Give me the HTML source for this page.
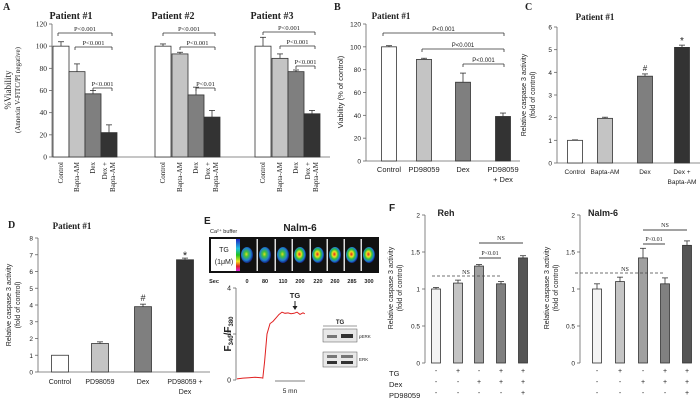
<!DOCTYPE html>
<html><head><meta charset="utf-8">
<style>
html,body{margin:0;padding:0;background:#fff;}
svg{display:block;}
</style></head>
<body>
<svg id="fig" width="700" height="406" viewBox="0 0 700 406" xmlns="http://www.w3.org/2000/svg">
<defs>
<radialGradient id="cellg" cx="45%" cy="45%" r="55%">
<stop offset="0" stop-color="#e02020"/><stop offset="0.3" stop-color="#f0e020"/><stop offset="0.55" stop-color="#30c040"/><stop offset="0.8" stop-color="#2080d0"/><stop offset="1" stop-color="#102080"/>
</radialGradient>
<radialGradient id="cellb" cx="45%" cy="45%" r="55%">
<stop offset="0" stop-color="#e0e020"/><stop offset="0.3" stop-color="#40c040"/><stop offset="0.7" stop-color="#2080d0"/><stop offset="1" stop-color="#102080"/>
</radialGradient>
<linearGradient id="cbar" x1="0" y1="0" x2="0" y2="1">
<stop offset="0" stop-color="#2020c0"/><stop offset="0.3" stop-color="#20c0e0"/><stop offset="0.5" stop-color="#20c020"/><stop offset="0.7" stop-color="#f0e020"/><stop offset="0.85" stop-color="#e02020"/><stop offset="1" stop-color="#e020e0"/>
</linearGradient>
</defs>
</svg>
<script>
// ---- Data ----
const aCats = ["Control","Bapta-AM","Dex","Dex +|Bapta-AM"];
const aP1 = [100,77,57,22];
const aP1err = [4,7,3,7];
const aP2 = [100,93,56,36];
const aP2err = [2,1.5,7,6];
const aP3 = [100,89,77,39];
const aP3err = [8,4,1.5,3];
const aTicks = [0,20,40,60,80,100,120];

const bCats = ["Control","PD98059","Dex","PD98059|+ Dex"];
const bVals = [100,89,69,39];
const bErr = [1,1,8,3];
const bTicks = [0,20,40,60,80,100,120];

const cCats = ["Control","Bapta-AM","Dex","Dex +|Bapta-AM"];
const cVals = [1,1.97,3.83,5.1];
const cErr = [0.02,0.05,0.1,0.1];
const cTicks = [0,1,2,3,4,5,6];

const dCats = ["Control","PD98059","Dex","PD98059 +|Dex"];
const dVals = [1,1.7,3.9,6.7];
const dErr = [0,0.1,0.15,0.1];
const dTicks = [0,1,2,3,4,5,6,7,8];

const eTime = [0,1,2,3,4,4.3,4.6,5,5.5,6,6.5,7,7.5,8,8.5,9,9.5,10,10.5,11,11.3];
const eRatio = [0.05,0.08,0.1,0.12,0.1,0.08,0.8,2.0,2.45,2.55,2.7,2.85,2.95,2.9,2.92,2.88,2.9,2.95,2.85,2.92,2.88];
const eSec = ["0","80","110","200","220","260","285","300"];
const eTicks = [0,2,4];

const fReh = [1,1.08,1.31,1.07,1.42];
const fRehErr = [0.02,0.04,0.02,0.03,0.03];
const fNalm = [1,1.1,1.42,1.07,1.59];
const fNalmErr = [0.07,0.06,0.13,0.08,0.06];
const fTicks = [0,0.5,1,1.5,2];
const fTG = ["-","+","-","+","+"];
const fDex = ["-","-","+","+","+"];
const fPD = ["-","-","-","-","+"];

// ---- helpers ----
const svg = document.getElementById('fig');
const NS = 'http://www.w3.org/2000/svg';
function el(tag, attrs, parent){
  const e = document.createElementNS(NS, tag);
  for (const k in attrs) e.setAttribute(k, attrs[k]);
  (parent||svg).appendChild(e);
  return e;
}
function txt(x,y,s,size,opts){
  opts = opts||{};
  const t = el('text',{x:x,y:y,'font-size':size,'font-family':opts.serif?'"Liberation Serif",serif':'"Liberation Sans",sans-serif','text-anchor':opts.anchor||'middle','font-weight':opts.bold?'bold':'normal','font-style':opts.italic?'italic':'normal',fill:opts.fill||'#222'});
  if (opts.rot!==undefined) t.setAttribute('transform','rotate('+opts.rot+' '+x+' '+y+')');
  t.textContent = s;
  return t;
}
function line(x1,y1,x2,y2,stroke,w,dash){
  const l = el('line',{x1:x1,y1:y1,x2:x2,y2:y2,stroke:stroke||'#333','stroke-width':w||0.8});
  if (dash) l.setAttribute('stroke-dasharray',dash);
  return l;
}
function yScale(y0,y1,vmax){ return v => y0 - (y0-y1)*v/vmax; }

function axis(x, y0, y1, ticks, sy, fmt, size, serif){
  const a = line(x,y0,x,y1,'#666',0.8);
  
  
  ticks.forEach(t=>{
    const yy = sy(t);
    line(x-3,yy,x,yy,'#666',0.8);
    const lb = txt(x-5,yy+2.5,fmt?fmt(t):String(t),size||7,{anchor:'end',serif:serif});
    
    
  });
}
function drawBars(centers, vals, errs, w, sy, colors, name){
  vals.forEach((v,i)=>{
    const yy = sy(v), y0 = sy(0);
    const r = el('rect',{x:centers[i]-w/2,y:yy,width:w,height:y0-yy,fill:colors[i],stroke:'#333','stroke-width':0.8});
    
    
    if (errs[i]>0){
      const ye = sy(v+errs[i]);
      line(centers[i],yy,centers[i],ye,'#333',0.8);
      line(centers[i]-3,ye,centers[i]+3,ye,'#333',0.8);
    }
  });
}
function bracket(x1,x2,y,label,size,serif){
  line(x1,y,x2,y,'#333',0.8);
  line(x1,y,x1,y+3,'#333',0.8);
  line(x2,y,x2,y+3,'#333',0.8);
  const t = txt((x1+x2)/2,y-2,label,size||6.5,{serif:serif,italic:false});
  
  
}

// ---- Panel A ----
txt(3,10,'A',10,{anchor:'start',serif:true,bold:true});
const syA = yScale(157,24,120);
axis(52,157,24,aTicks,syA,null,7.5,true);
line(52,157,330,157,'#666',0.8);
const aCols = ['#ffffff','#c4c4c4','#7f7f7f','#333333'];
const aGroups = [[61,77,93,109],[163,180,196,212],[263,280,296,312]];
const aData = [[aP1,aP1err],[aP2,aP2err],[aP3,aP3err]];
const aTitles = [[71,'Patient #1'],[173,'Patient #2'],[272,'Patient #3']];
aGroups.forEach((g,gi)=>{
  drawBars(g,aData[gi][0],aData[gi][1],16,syA,aCols,'patient'+(gi+1));
  const tt = txt(aTitles[gi][0],19,aTitles[gi][1],10,{serif:true,bold:true});
  
  
  aCats.forEach((c,i)=>{
    const parts = c.split('|');
    parts.forEach((p,k)=>{
      const xx = g[i]+2+(parts.length>1?(k===0?-4:4):0);
      const lb = txt(xx,162,p,7,{serif:true,anchor:'end',rot:-90});
      
      
    });
  });
});
bracket(58,112,33,'P<0.001',6.5,true);
bracket(75,112,47,'P<0.001',6.5,true);
bracket(93,112,88,'P<0.001',6.5,true);
bracket(163,215,33,'P<0.001',6.5,true);
bracket(180,215,47,'P<0.001',6.5,true);
bracket(196,215,88,'P<0.01',6.5,true);
bracket(263,315,32,'P<0.001',6.5,true);
bracket(280,315,46,'P<0.001',6.5,true);
bracket(296,315,66,'P<0.001',6.5,true);
txt(11,90,'%Viability',9,{serif:true,rot:-90});
txt(20,90,'(Annexin V-FITC/PI negative)',7,{serif:true,rot:-90});

// ---- Panel B ----
txt(334,10,'B',10,{anchor:'start',serif:true,bold:true});
const syB = yScale(161,24,120);
axis(366,161,24,bTicks,syB,null,6.5);
line(366,161,520,161,'#666',0.8);
const bX = [389,424,463,503];
drawBars(bX,bVals,bErr,15,syB,['#ffffff','#c4c4c4','#7f7f7f','#333333'],'panel-b');
bCats.forEach((c,i)=>{c.split('|').forEach((p,k)=>{const t=txt(bX[i],172+k*10,p,7.5);});});
txt(391,19,'Patient #1',9,{serif:true,bold:true});
bracket(383,504,33,'P<0.001',6);
bracket(422,504,49,'P<0.001',6);
bracket(463,504,64,'P<0.001',6);
txt(343,92,'Viability (% of control)',7.5,{rot:-90});

// ---- Panel C ----
txt(525,10,'C',10,{anchor:'start',serif:true,bold:true});
const syC = yScale(163,27,6);
axis(557,163,27,cTicks,syC,null,6.5);
line(557,163,700,163,'#666',0.8);
const cX = [575,605,645,682];
drawBars(cX,cVals,cErr,15,syC,['#ffffff','#c4c4c4','#7f7f7f','#333333'],'panel-c');
cCats.forEach((c,i)=>{c.split('|').forEach((p,k)=>{const t=txt(cX[i],174+k*10,p,6.5);});});
txt(595,20,'Patient #1',9,{serif:true,bold:true});
txt(645,syC(3.93)-3,'#',8);
txt(682,syC(5.2)-1,'*',10);
txt(526,95,'Relative caspase 3 activity',7,{rot:-90});
txt(535,95,'(fold of control)',7,{rot:-90});

// ---- Panel D ----
txt(8,228,'D',10,{anchor:'start',serif:true,bold:true});
const syD = yScale(372,238,8);
axis(38,372,238,dTicks,syD,null,6.5);
line(38,372,210,372,'#666',0.8);
const dX = [60,100,143,185];
drawBars(dX,dVals,dErr,17,syD,['#ffffff','#c4c4c4','#7f7f7f','#333333'],'panel-d');
dCats.forEach((c,i)=>{c.split('|').forEach((p,k)=>{const t=txt(dX[i],384+k*10,p,7);});});
txt(72,229,'Patient #1',9,{serif:true,bold:true});
txt(143,syD(4.05)-3,'#',9);
txt(185,syD(6.8)+1,'*',11);
txt(11,305,'Relative caspase 3 activity',7,{rot:-90});
txt(20,305,'(fold of control)',7,{rot:-90});

// ---- Panel E ----
txt(204,224,'E',10,{anchor:'start',bold:true});
txt(210,233,'Ca²⁺ buffer',5.5,{anchor:'start'});
txt(300,231,'Nalm-6',10,{bold:true});
const strip = el('rect',{x:209,y:237,width:170,height:36,fill:'#111'});


el('rect',{x:211,y:239,width:25,height:32,fill:'#fff'});
el('rect',{x:236,y:239,width:4,height:32,fill:'url(#cbar)'});
txt(224,252,'TG',7);
txt(224,264,'(1μM)',7);
const eCellX = [248,266,284,301,319,336,353,370];
eSec.forEach((s,i)=>{
  if (i>0) el('rect',{x:eCellX[i]-9.5,y:239,width:1.5,height:32,fill:'#ddd'});
  const c = el('ellipse',{cx:eCellX[i]-1,cy:255,rx:6,ry:8,fill:i<3?'url(#cellb)':'url(#cellg)'});
  
  
  const t = txt(eCellX[i]-1,283,s,5.5,{bold:true});
  
});
txt(214,283,'Sec',5.5,{bold:true});
const syE = yScale(380,288,4);
const sxE = t => 237 + t*6;
axis(236,380,288,eTicks,syE,null,7);
const pts = eTime.map((t,i)=>sxE(t)+','+syE(eRatio[i])).join(' ');
const tr = el('polyline',{points:pts,fill:'none',stroke:'#e02020','stroke-width':1});


txt(295,298,'TG',7.5,{bold:true});
line(295,301,295,309,'#222',1);
el('path',{d:'M292.5,306 L295,310 L297.5,306 Z',fill:'#222'});
line(275,381,305,381,'#555',0.8);
txt(290,393,'5 mn',6.5);
const fl = el('text',{x:231,y:334,'font-size':10,'font-family':'"Liberation Sans",sans-serif','text-anchor':'middle','font-weight':'bold',fill:'#222',transform:'rotate(-90 231 334)'});


fl.appendChild(document.createTextNode('F'));
const s1 = el('tspan',{'font-size':6,dy:2},fl); s1.textContent='340';
const s2 = el('tspan',{'font-size':10,dy:-2},fl); s2.textContent='/F';
const s3 = el('tspan',{'font-size':6,dy:2},fl); s3.textContent='380';
txt(340,324,'TG',6,{bold:true});
line(323,326,357,326,'#333',0.6);
txt(333,333,'-',7);txt(346,333,'+',7);
const b1 = el('rect',{x:323,y:329,width:34,height:13,fill:'#e8e8e8',stroke:'#555','stroke-width':0.5});

el('rect',{x:327,y:335,width:10,height:3,fill:'#777'});
el('rect',{x:341,y:334,width:12,height:4,fill:'#333'});
txt(359,338,'pERK',4.5,{anchor:'start'});
const b2 = el('rect',{x:323,y:352,width:34,height:15,fill:'#e8e8e8',stroke:'#555','stroke-width':0.5});

el('rect',{x:327,y:355,width:10,height:3,fill:'#777'});
el('rect',{x:341,y:355,width:12,height:3,fill:'#777'});
el('rect',{x:327,y:361,width:10,height:3,fill:'#333'});
el('rect',{x:341,y:361,width:12,height:3,fill:'#333'});
txt(359,361,'ERK',4.5,{anchor:'start'});

// ---- Panel F ----
txt(389,211,'F',10,{anchor:'start',bold:true});
const syF = yScale(363,215,2);
const fCols = ['#f4f4f4','#c4c4c4','#a0a0a0','#808080','#555555'];
function fPanel(ax, xs, vals, errs, title, tx, name){
  axis(ax,363,215,fTicks,syF,null,6.5);
  drawBars(xs,vals,errs,9,syF,fCols,name);
  const t = txt(tx,216,title,9,{bold:true});
  
  
  [fTG,fDex,fPD].forEach((row,r)=>{
    row.forEach((s,i)=>{
      const lb = txt(xs[i],373+r*11,s,7);
      
    });
  });
}
const rehX = [436,458,479,501,523];
fPanel(425,rehX,fReh,fRehErr,'Reh',446,'reh');
const nalmX = [597,620,643,665,687];
fPanel(580,nalmX,fNalm,fNalmErr,'Nalm-6',603,'nalm6');
line(432,276,502,276,'#444',0.8,'3,2');
txt(466,274,'NS',6,{serif:true});
line(479,258,501,258,'#444',0.9);
txt(490,255,'P<0.01',6,{serif:true});
line(479,243,523,243,'#444',0.9);
txt(501,240,'NS',6,{serif:true});
line(575,273,665,273,'#444',0.8,'3,2');
txt(625,271,'NS',6,{serif:true});
line(643,244,665,244,'#444',0.9);
txt(654,241,'P<0.01',6,{serif:true});
line(643,230,687,230,'#444',0.9);
txt(665,227,'NS',6,{serif:true});
txt(393,288,'Relative caspase 3 activity',7,{rot:-90});
txt(402,288,'(fold of control)',7,{rot:-90});
txt(549,288,'Relative caspase 3 activity',7,{rot:-90});
txt(558,288,'(fold of control)',7,{rot:-90});
['TG','Dex','PD98059'].forEach((s,r)=>{
  const t = txt(389,376+r*11,s,7.5,{anchor:'start'});
  
});
</script>
</body></html>
